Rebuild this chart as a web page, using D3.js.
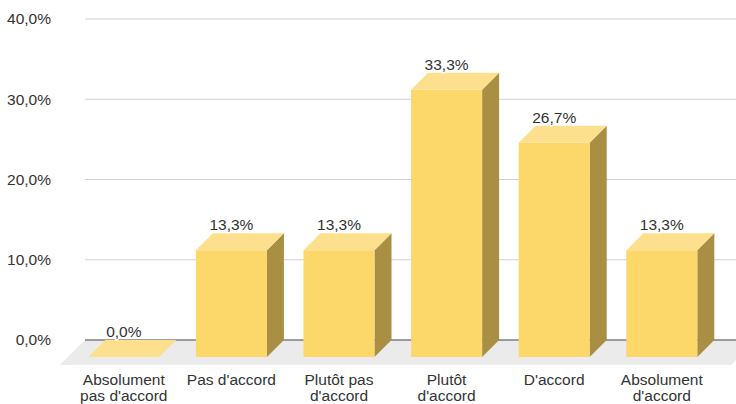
<!DOCTYPE html>
<html>
<head>
<meta charset="utf-8">
<script src="https://cdn.jsdelivr.net/npm/d3@7"></script>
<style>
  html, body { margin: 0; padding: 0; background: #fff; }
  svg { display: block; font-family: "Liberation Sans", Arial, sans-serif; }
</style>
</head>
<body>
<svg id="chart" width="736" height="404"></svg>
<script>
// Answer categories and share of respondents (%)
const categories = [
  "Absolument pas d'accord",
  "Pas d'accord",
  "Plutôt pas d'accord",
  "Plutôt d'accord",
  "D'accord",
  "Absolument d'accord"
];
const values = [0.0, 13.3, 13.3, 33.3, 26.7, 13.3];
const yTicks = [0, 10, 20, 30, 40];

const svg = d3.select("#chart");
const W = 736, H = 404;

// Back wall vertical scale and 3D depth offsets
const y = d3.scaleLinear().domain([0, 40]).range([340, 19]);
const depth = 17;       // bar depth (px, diagonal)
const floorDepth = 25;  // floor depth (px, diagonal)

const x = d3.scaleBand()
  .domain(categories)
  .range([70, 715.6])
  .paddingInner(0.34)
  .paddingOuter(0.17);

const fmt = v => d3.format(".1f")(v).replace(".", ",") + "%";

const wallLeft = 85;

// Floor
const y0 = y(0);
svg.append("path")
  .attr("d", `M${wallLeft},${y0} L${W + 20},${y0} L${W + 20 - floorDepth},${y0 + floorDepth} L${wallLeft - floorDepth},${y0 + floorDepth} Z`)
  .attr("fill", "#ebebeb");

// Gridlines on the back wall
svg.append("g")
  .selectAll("line")
  .data(yTicks)
  .join("line")
  .attr("x1", wallLeft)
  .attr("x2", W)
  .attr("y1", d => y(d))
  .attr("y2", d => y(d))
  .attr("stroke", d => d === 0 ? "#444" : "#d0d0d0")
  .attr("stroke-width", 1.2);

// Y axis labels
svg.append("g")
  .selectAll("text")
  .data(yTicks)
  .join("text")
  .attr("x", 51)
  .attr("y", d => y(d))
  .attr("dy", "0.35em")
  .attr("text-anchor", "end")
  .attr("font-size", "15.5px")
  .attr("fill", "#333")
  .text(d => fmt(d));

// 3D bars
const bars = svg.append("g")
  .selectAll("g")
  .data(categories.map((c, i) => ({ c, v: values[i] })))
  .join("g");

bars.each(function(d) {
  const g = d3.select(this);
  const bw = x.bandwidth();
  const xl = x(d.c), xr = xl + bw;
  const yTopFront = y(d.v) + depth;
  const yBotFront = y0 + depth;
  const yTopBack = y(d.v);
  if (d.v > 0) {
    // side face
    g.append("path")
      .attr("d", `M${xr},${yTopFront} L${xr + depth},${yTopBack} L${xr + depth},${y0} L${xr},${yBotFront} Z`)
      .attr("fill", "#a88f43");
    // front face
    g.append("rect")
      .attr("x", xl)
      .attr("y", yTopFront)
      .attr("width", bw)
      .attr("height", yBotFront - yTopFront)
      .attr("fill", "#fcd76a");
  }
  // top face
  g.append("path")
    .attr("d", `M${xl},${yTopFront} L${xl + depth},${yTopBack} L${xr + depth},${yTopBack} L${xr},${yTopFront} Z`)
    .attr("fill", "#fde08e");
});

// Value labels
svg.append("g")
  .selectAll("text")
  .data(categories.map((c, i) => ({ c, v: values[i] })))
  .join("text")
  .attr("x", d => x(d.c) + x.bandwidth() / 2)
  .attr("y", d => y(d.v) - 3)
  .attr("text-anchor", "middle")
  .attr("font-size", "15.5px")
  .attr("fill", "#333")
  .attr("stroke", "#fff")
  .attr("stroke-width", 3)
  .attr("stroke-linejoin", "round")
  .attr("paint-order", "stroke")
  .text(d => fmt(d.v));

// Category labels, wrapped to the band
const catG = svg.append("g");
categories.forEach(c => {
  const cx = x(c) + x.bandwidth() / 2;
  const words = c.split(" ");
  const lines = [];
  let cur = [];
  const probe = catG.append("text").attr("font-size", "15.5px");
  words.forEach(w => {
    const test = cur.concat([w]).join(" ");
    probe.text(test);
    if (cur.length && probe.node().getComputedTextLength() > 96) {
      lines.push(cur.join(" "));
      cur = [w];
    } else {
      cur.push(w);
    }
  });
  lines.push(cur.join(" "));
  probe.remove();
  lines.forEach((ln, i) => {
    catG.append("text")
      .attr("x", cx)
      .attr("y", 384.5 + i * 16)
      .attr("text-anchor", "middle")
      .attr("font-size", "15.5px")
      .attr("fill", "#333")
      .text(ln);
  });
});
</script>
</body>
</html>
